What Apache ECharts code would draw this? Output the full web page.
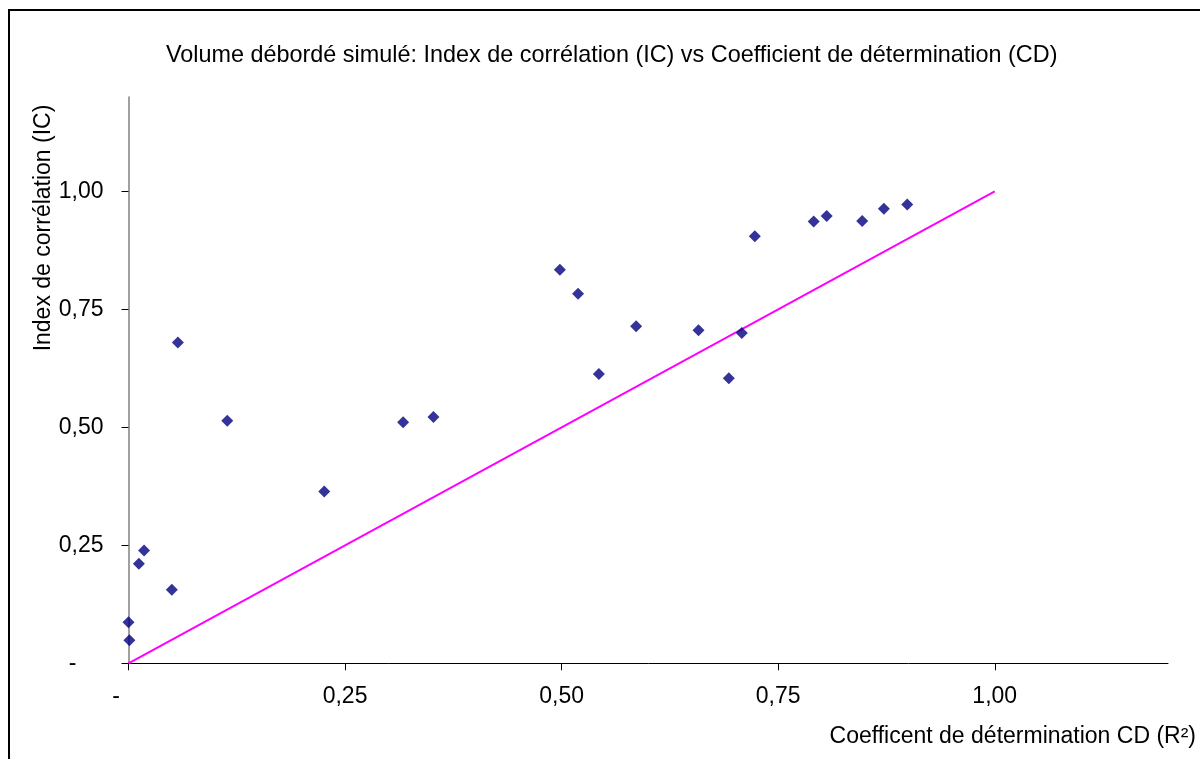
<!DOCTYPE html>
<html>
<head>
<meta charset="utf-8">
<script src="https://cdn.jsdelivr.net/npm/echarts@6/dist/echarts.min.js"></script>
<style>
  html, body { margin: 0; padding: 0; background: #fff; }
  #main { width: 1200px; height: 759px; }
</style>
</head>
<body>
<div id="main"></div>
<script>
// CD (R²) and IC values
const cdValues = [0.000, 0.001, 0.012, 0.018, 0.050, 0.057, 0.114, 0.226, 0.317, 0.352,
  0.498, 0.519, 0.543, 0.586, 0.658, 0.693, 0.708, 0.723, 0.791, 0.806, 0.847, 0.872, 0.899];
const icValues = [0.087, 0.049, 0.211, 0.239, 0.156, 0.680, 0.514, 0.364, 0.511, 0.522,
  0.834, 0.783, 0.613, 0.714, 0.706, 0.604, 0.700, 0.905, 0.936, 0.948, 0.937, 0.963, 0.972];
// 1:1 reference line
const diagX = [0, 1];
const diagY = [0, 1];

const titleText = 'Volume débordé simulé: Index de corrélation (IC) vs Coefficient de détermination (CD)';
const xName = 'Coefficent de détermination CD (R²)';
const yName = 'Index de corrélation (IC)';

const FONT = '"Liberation Sans", Arial, sans-serif';
const FS = 23;

const fmt = (v) => v.toFixed(2).replace('.', ',');

const myChart = echarts.init(document.getElementById('main'));
let option;

option = {
  backgroundColor: '#fff',
  animation: false,
  title: {
    text: titleText,
    left: 161,
    top: 39,
    textStyle: { fontFamily: FONT, fontSize: 23.4, fontWeight: 'normal', color: '#000' }
  },
  grid: { left: 128.5, right: 32, top: 97, bottom: 95.7 },
  xAxis: {
    type: 'value',
    min: 0,
    max: 1.2,
    interval: 0.25,
    splitLine: { show: false },
    axisLine: { lineStyle: { color: '#000', width: 1 } },
    axisTick: { show: true, length: 7, lineStyle: { color: '#000' } },
    axisLabel: {
      showMaxLabel: false,
      margin: 22,
      fontFamily: FONT,
      fontSize: FS,
      color: '#000',
      formatter: (v) => v === 0 ? '{z|-}' : fmt(v),
      rich: { z: { fontFamily: FONT, fontSize: FS, color: '#000', padding: [0, 25, 0, 0] } }
    }
  },
  yAxis: {
    type: 'value',
    min: 0,
    max: 1.2,
    interval: 0.25,
    splitLine: { show: false },
    axisLine: { show: true, lineStyle: { color: '#808080', width: 1.5 } },
    axisTick: { show: true, length: 7, lineStyle: { color: '#000' } },
    axisLabel: {
      showMaxLabel: false,
      margin: 25,
      fontFamily: FONT,
      fontSize: FS,
      color: '#000',
      formatter: (v) => v === 0 ? '{z|-}' : fmt(v),
      rich: { z: { fontFamily: FONT, fontSize: FS, color: '#000', padding: [0, 27, 0, 0] } }
    }
  },
  graphic: [
    {
      type: 'rect',
      shape: { x: 9, y: 10, width: 1400, height: 1000 },
      style: { fill: 'none', stroke: '#000', lineWidth: 2 },
      silent: true
    },
    {
      type: 'text',
      x: 44,
      y: 228,
      rotation: Math.PI / 2,
      style: {
        text: yName,
        font: FS + 'px ' + FONT,
        fill: '#000',
        textAlign: 'center',
        textVerticalAlign: 'middle'
      }
    },
    {
      type: 'text',
      x: 1196,
      y: 737,
      style: {
        text: xName,
        font: FS + 'px ' + FONT,
        fill: '#000',
        textAlign: 'right',
        textVerticalAlign: 'middle'
      }
    }
  ],
  series: [
    {
      name: 'diag',
      type: 'line',
      data: diagX.map((x, i) => [x, diagY[i]]),
      symbol: 'none',
      lineStyle: { color: '#FF00FF', width: 2 },
      z: 2
    },
    {
      name: 'IC vs CD',
      type: 'scatter',
      data: cdValues.map((x, i) => [x, icValues[i]]),
      symbol: 'diamond',
      symbolSize: 12,
      itemStyle: { color: '#000080' },
      z: 3
    }
  ]
};

option && myChart.setOption(option);
</script>
</body>
</html>
